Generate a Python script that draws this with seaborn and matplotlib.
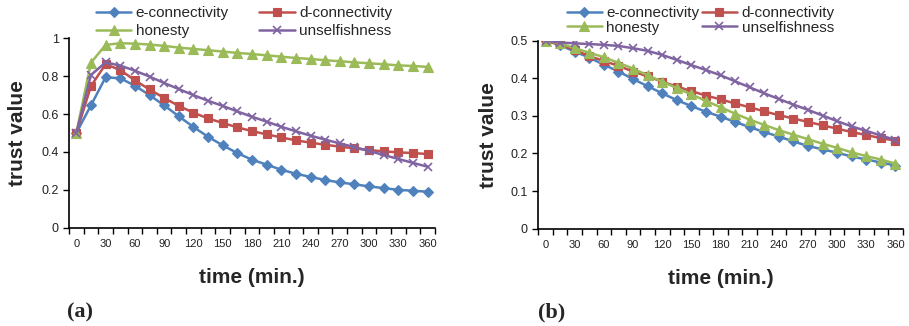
import numpy as np
import pandas as pd
import matplotlib
matplotlib.use("Agg")
import matplotlib.pyplot as plt
from matplotlib.ticker import FuncFormatter, MultipleLocator
import seaborn as sns

# time axis (min.), one point every 15 min
times = list(range(0, 361, 15))
x_ticks = list(range(0, 361, 30))
series_names = ["e-connectivity", "d-connectivity", "honesty", "unselfishness"]

# panel (a)
a_e = [0.50, 0.646, 0.794, 0.789, 0.75, 0.70, 0.646, 0.588, 0.532, 0.48, 0.435, 0.394, 0.359,
       0.333, 0.306, 0.285, 0.268, 0.252, 0.239, 0.229, 0.218, 0.209, 0.20, 0.195, 0.19]
a_d = [0.50, 0.748, 0.863, 0.833, 0.778, 0.73, 0.685, 0.643, 0.607, 0.577, 0.553, 0.53, 0.51,
       0.493, 0.477, 0.461, 0.449, 0.438, 0.428, 0.419, 0.41, 0.403, 0.398, 0.394, 0.389]
a_h = [0.50, 0.871, 0.965, 0.974, 0.972, 0.967, 0.96, 0.951, 0.944, 0.937, 0.93, 0.923, 0.917,
       0.91, 0.903, 0.896, 0.891, 0.884, 0.879, 0.873, 0.868, 0.863, 0.857, 0.854, 0.849]
a_u = [0.50, 0.806, 0.873, 0.856, 0.829, 0.798, 0.764, 0.732, 0.70, 0.67, 0.643, 0.614, 0.586,
       0.56, 0.533, 0.509, 0.486, 0.465, 0.445, 0.426, 0.405, 0.384, 0.363, 0.342, 0.322]

# panel (b)
b_e = [0.50, 0.488, 0.471, 0.455, 0.436, 0.418, 0.398, 0.379, 0.36, 0.342, 0.326, 0.311, 0.298,
       0.284, 0.27, 0.257, 0.245, 0.232, 0.22, 0.211, 0.202, 0.192, 0.184, 0.176, 0.168]
b_d = [0.50, 0.49, 0.475, 0.459, 0.446, 0.433, 0.418, 0.405, 0.391, 0.378, 0.366, 0.354, 0.344,
       0.333, 0.323, 0.312, 0.302, 0.293, 0.284, 0.275, 0.266, 0.257, 0.249, 0.241, 0.234]
b_h = [0.50, 0.493, 0.48, 0.468, 0.456, 0.441, 0.426, 0.408, 0.391, 0.374, 0.357, 0.34, 0.323,
       0.306, 0.29, 0.276, 0.262, 0.25, 0.238, 0.226, 0.215, 0.203, 0.193, 0.184, 0.173]
b_u = [0.50, 0.495, 0.493, 0.491, 0.489, 0.486, 0.48, 0.473, 0.462, 0.449, 0.435, 0.422, 0.408,
       0.392, 0.376, 0.36, 0.345, 0.33, 0.316, 0.301, 0.286, 0.272, 0.26, 0.248, 0.236]

colors = {"e-connectivity": "#4F81BD", "d-connectivity": "#C0504D",
          "honesty": "#9BBB59", "unselfishness": "#8064A2"}
markers = {"e-connectivity": "D", "d-connectivity": "s",
           "honesty": "^", "unselfishness": "x"}
msizes = {"e-connectivity": 5, "d-connectivity": 5.5, "honesty": 6.5, "unselfishness": 6}

sns.set_style("ticks")
plt.rcParams["font.family"] = ["Liberation Sans", "DejaVu Sans"]

fig = plt.figure(figsize=(9.09, 3.26), dpi=100)
ax_a = fig.add_axes([0.0759, 0.3015, 0.4026, 0.581])
ax_b = fig.add_axes([0.5922, 0.2985, 0.4009, 0.5767])


def draw_panel(ax, values, ymax, ystep, ylabelpad):
    for name, vals in zip(series_names, values):
        df = pd.DataFrame({"time": times, "trust": vals})
        sns.lineplot(data=df, x="time", y="trust", ax=ax, color=colors[name],
                     marker=markers[name], markersize=msizes[name],
                     markeredgecolor=colors[name], markeredgewidth=1.2 if name == "unselfishness" else 0.8,
                     linewidth=1.8, label=name, legend=False)
    ax.set_xlim(-7.5, 367.5)
    ax.set_ylim(0, ymax)
    ax.set_xticks(x_ticks)
    ax.set_xticks(np.arange(-7.5, 368, 15), minor=True)
    ax.yaxis.set_major_locator(MultipleLocator(ystep))
    ax.yaxis.set_major_formatter(FuncFormatter(lambda v, p: f"{v:g}"))
    ax.tick_params(axis="x", which="major", length=0, labelsize=8, pad=8, colors="#222222")
    ax.tick_params(axis="x", which="minor", length=4, width=1, color="black")
    ax.tick_params(axis="y", length=4, width=1, labelsize=9, color="black", labelcolor="#222222")
    for s in ["top", "right"]:
        ax.spines[s].set_visible(False)
    for s in ["left", "bottom"]:
        ax.spines[s].set_color("black")
        ax.spines[s].set_linewidth(1.2)
    ax.set_xlabel("time (min.)", fontsize=15, fontweight="bold", labelpad=14)
    ax.set_ylabel("trust value", fontsize=15, fontweight="bold", labelpad=ylabelpad)


draw_panel(ax_a, [a_e, a_d, a_h, a_u], 1.0, 0.2, 10)
draw_panel(ax_b, [b_e, b_d, b_h, b_u], 0.5, 0.1, 9)


def add_legend(ax, x0, y0, colspacing, labelspacing):
    handles, labels = ax.get_legend_handles_labels()
    order = [0, 2, 1, 3]
    ax.legend([handles[i] for i in order], [labels[i] for i in order], ncol=2,
              loc="upper left", bbox_to_anchor=(x0, y0), bbox_transform=fig.transFigure,
              frameon=False, fontsize=11, borderpad=0, borderaxespad=0,
              handlelength=2.3, handletextpad=0.3, columnspacing=colspacing,
              labelspacing=labelspacing)


add_legend(ax_a, 0.1056, 0.982, 2.0, 0.27)
add_legend(ax_b, 0.6234, 0.982, 0.15, 0.05)

fig.text(0.0737, 0.025, "(a)", fontsize=16, fontweight="bold", family=["Liberation Serif", "DejaVu Serif"])
fig.text(0.592, 0.025, "(b)", fontsize=16, fontweight="bold", family=["Liberation Serif", "DejaVu Serif"])

fig.savefig("out.png", dpi=100)
